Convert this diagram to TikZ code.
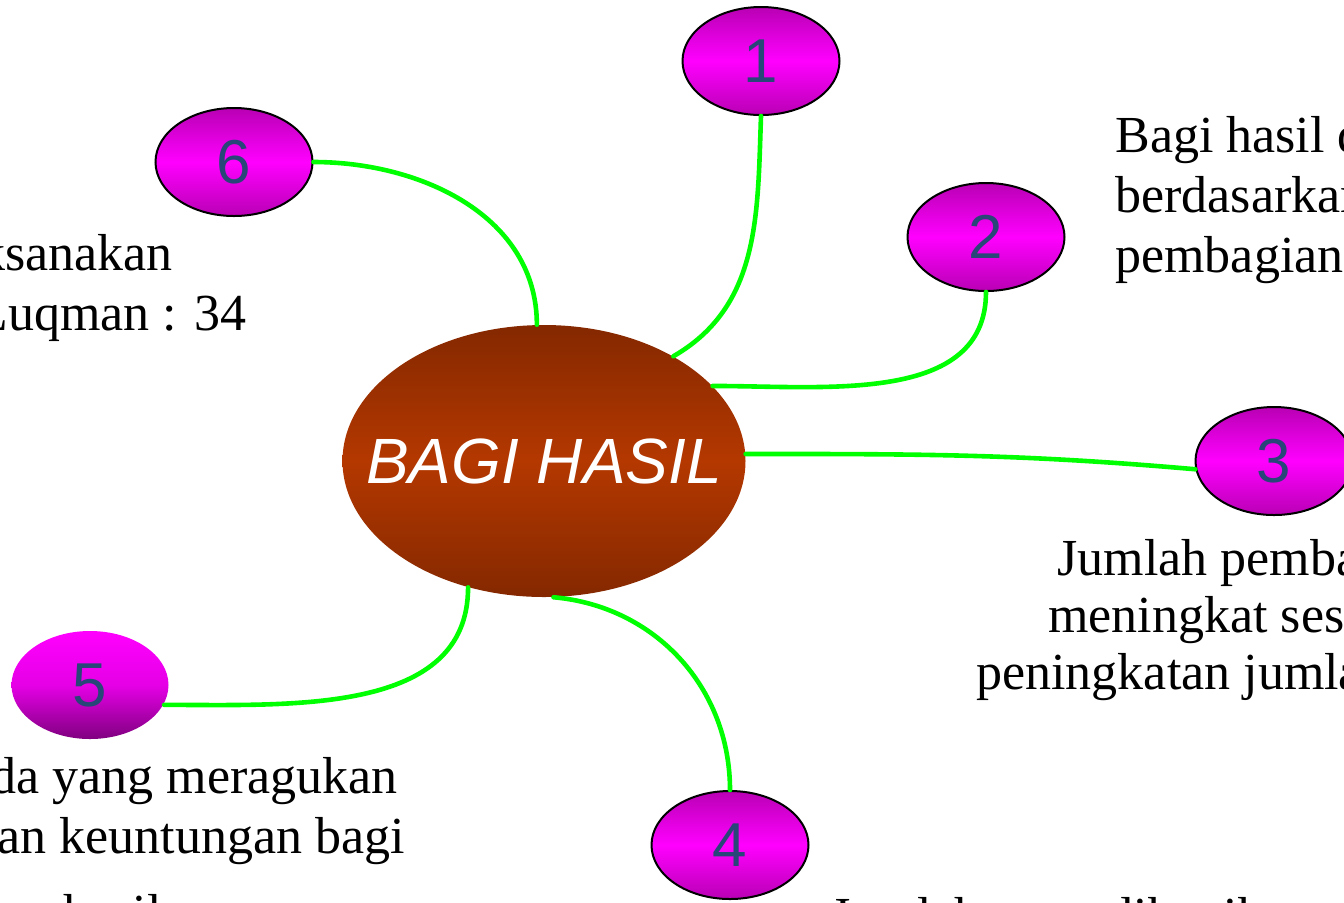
\documentclass[tikz,border=0pt]{standalone}
\usepackage{fontspec}
\setmainfont{Liberation Serif}
\setsansfont{Liberation Sans}
\usetikzlibrary{shapes.geometric}

\definecolor{bubblemag}{RGB}{255,0,255}
\definecolor{bubbledark}{RGB}{185,0,180}
\definecolor{bubbleplum}{RGB}{128,0,128}
\definecolor{hubrust}{RGB}{180,56,0}
\definecolor{hubdark}{RGB}{132,40,0}
\definecolor{numblue}{RGB}{40,70,120}
\definecolor{linkgreen}{RGB}{0,255,0}

\tikzset{
	bubble/.style={ellipse, draw=black, line width=1pt, inner sep=0pt,
		minimum width=78.5pt, minimum height=54pt,
		top color=bubbledark, bottom color=bubbledark, middle color=bubblemag,
		text=numblue, font=\sffamily\fontsize{31}{31}\selectfont},
	link/.style={draw=linkgreen, line width=2.3pt, line cap=round},
	note/.style={inner sep=0pt, font=\fontsize{26}{31}\selectfont},
}

\begin{document}
\begin{tikzpicture}[x=0.5pt,y=-0.5pt]
	\useasboundingbox (0,0) rectangle (1344,902);
	\clip (0,0) rectangle (1344,902);
	
	% centre and the six bubbles
	\node[ellipse, inner sep=0pt, minimum width=201.5pt, minimum height=136pt,
		top color=hubdark, bottom color=hubdark, middle color=hubrust] (hub) at (544,461) {};
	\node[text=white, font=\sffamily\itshape\fontsize{32}{32}\selectfont] (hubtext) at (hub.center) {BAGI HASIL};
	\node[bubble] (n1) at (761,61) {1};
	\node[bubble] (n2) at (986,237) {2};
	\node[bubble] (n3) at (1274,461) {3};
	\node[bubble] (n4) at (730,845) {4};
	\node[bubble, draw=none, top color=bubblemag, bottom color=bubbleplum, middle color=bubblemag!80!bubbleplum] (n5) at (90,685) {5};
	\node[bubble] (n6) at (234,162) {6};
	
	% links
	\draw[link] (n6.east) to[out=0, in=90] (hub.93);
	\draw[link] (n1.south) to[out=-92, in=30] (hub.39);
	\draw[link] (n2.south) to[out=-90, in=0] (hub.24);
	\draw[link] (hub.2) to[out=0, in=175] (n3.186);
	\draw[link] (n4.north) to[out=90, in=-5] (hub.-86);
	\draw[link] (n5.-15) to[out=0, in=-90] (hub.-121);
	
	% texts
	\node[note, anchor=base east] (t6a) at (173,270) {dilaksanakan};
	\node[note, anchor=base east] (t6b) at (247,330) {sesuai QS. Luqman : 34};
	\node[note, anchor=base west] (t2a) at (1115,152) {Bagi hasil ditentukan};
	\node[note, anchor=base west] (t2b) at (1115,212) {berdasarkan nisbah};
	\node[note, anchor=base west] (t2c) at (1115,272) {pembagian keuntungan};
	\node[note, anchor=base west] (t3a) at (1057,575) {Jumlah pembagian};
	\node[note, anchor=base west] (t3b) at (1048,632) {meningkat sesuai};
	\node[note, anchor=base west] (t3c) at (976,689) {peningkatan jumlah pendapatan};
	\node[note, anchor=base east] (t5a) at (398,793) {Tidak ada yang meragukan};
	\node[note, anchor=base east] (t5b) at (405,853) {menghasilkan keuntungan bagi};
	\node[note, anchor=base west] (t5c) at (63,930) {hasil};
	\node[note, anchor=base west] (t4a) at (830,933) {Jumlah yang dibagikan};
\end{tikzpicture}
\end{document}
